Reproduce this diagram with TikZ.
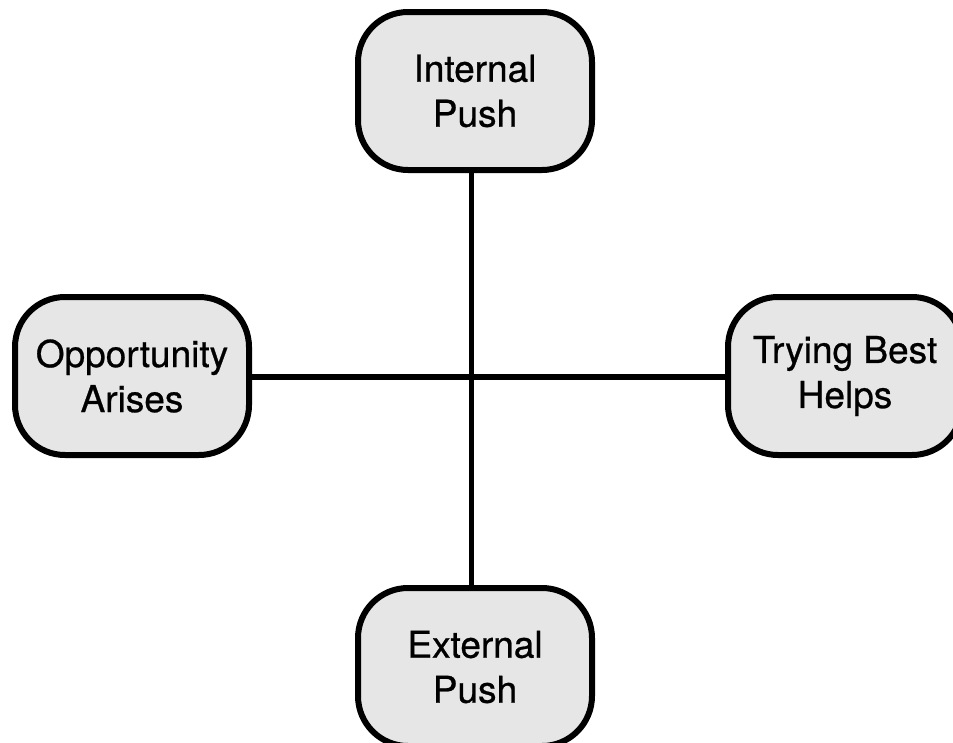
\documentclass[tikz,border=0pt]{standalone}
\usepackage{fontspec}
\setmainfont[FakeBold=0.7]{TeX Gyre Heros}
\usetikzlibrary{backgrounds}
\begin{document}
\begin{tikzpicture}[x=1pt,y=-1pt,
  factor/.style={draw=black, line width=6pt, fill=boxgray, rounded corners=50pt,
    minimum width=234pt, minimum height=158pt, inner sep=0pt, align=center,
    font=\fontsize{37}{45}\selectfont},
  link/.style={draw=black, line width=5.5pt}]
  \definecolor{boxgray}{HTML}{E6E6E6}
  \useasboundingbox (0,0) rectangle (953,742);
  \clip (0,0) rectangle (953,742);
  % crossing point of the two axes
  \coordinate (c) at (471.5,377);
  % the four factors
  \node[factor] (ip) at (475,91)  {Internal\\Push};
  \node[factor] (oa) at (132,376) {Opportunity\\Arises};
  \node[factor] (tb) at (845,376) {Trying Best\\Helps};
  \node[factor] (ep) at (475,667) {External\\Push};
  % axes, behind the boxes
  \begin{scope}[on background layer]
    \path[link] (c |- ip.south) -- (c |- ep.north);
    \path[link] (oa.east |- c) -- (tb.west |- c);
  \end{scope}
\end{tikzpicture}
\end{document}
